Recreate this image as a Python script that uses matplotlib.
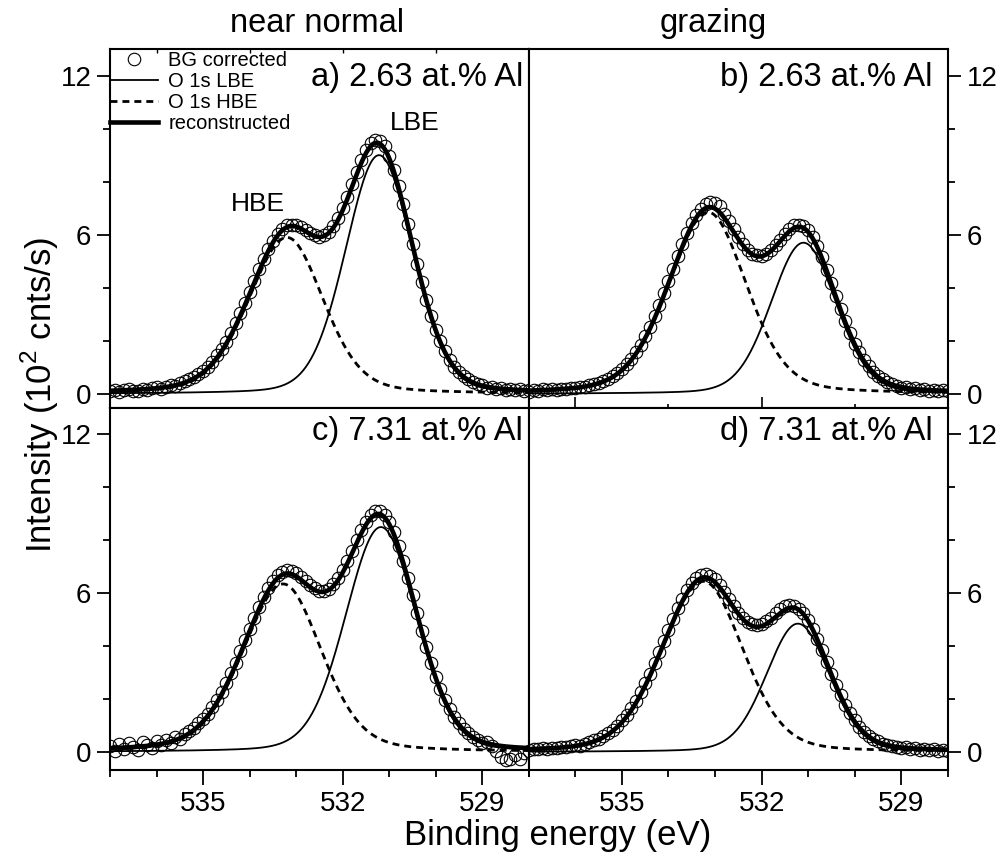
import numpy as np
import matplotlib
matplotlib.use("Agg")
import matplotlib.pyplot as plt
from matplotlib.ticker import FixedLocator

plt.rcParams['font.family'] = ['Liberation Sans', 'DejaVu Sans']
plt.rcParams['mathtext.fontset'] = 'custom'
plt.rcParams['mathtext.rm'] = 'Liberation Sans'

# measured energies: 537.0 -> 528.0 eV in 0.1 eV steps
energy = np.linspace(537.0, 528.0, 91)

# background corrected intensities (10^2 cnts/s)
meas_a = [0.10, 0.16, 0.08, 0.15, 0.20, 0.12, 0.11, 0.19, 0.16, 0.23,
          0.27, 0.18, 0.25, 0.33, 0.30, 0.41, 0.47, 0.55, 0.62, 0.74,
          0.88, 1.03, 1.22, 1.45, 1.70, 1.97, 2.31, 2.66, 3.05, 3.44,
          3.86, 4.27, 4.70, 5.08, 5.45, 5.76, 6.03, 6.22, 6.36, 6.38,
          6.37, 6.30, 6.18, 6.08, 5.99, 5.93, 5.98, 6.10, 6.33, 6.62,
          7.01, 7.43, 7.90, 8.36, 8.80, 9.18, 9.45, 9.58, 9.55, 9.33,
          8.97, 8.45, 7.84, 7.14, 6.40, 5.64, 4.90, 4.20, 3.53, 2.95,
          2.42, 1.98, 1.60, 1.28, 1.02, 0.83, 0.66, 0.55, 0.44, 0.38,
          0.33, 0.24, 0.27, 0.19, 0.22, 0.15, 0.19, 0.13, 0.17, 0.11,
          0.14]
meas_b = [0.09, 0.14, 0.11, 0.17, 0.13, 0.18, 0.15, 0.20, 0.19, 0.24,
          0.21, 0.28, 0.26, 0.34, 0.37, 0.43, 0.50, 0.57, 0.68, 0.80,
          0.94, 1.12, 1.33, 1.58, 1.86, 2.18, 2.53, 2.92, 3.34, 3.79,
          4.25, 4.72, 5.19, 5.64, 6.06, 6.43, 6.75, 6.98, 7.16, 7.22,
          7.20, 7.08, 6.80, 6.50, 6.20, 5.90, 5.64, 5.43, 5.29, 5.22,
          5.21, 5.28, 5.42, 5.60, 5.82, 6.03, 6.22, 6.35, 6.38, 6.32,
          6.17, 5.92, 5.57, 5.15, 4.68, 4.19, 3.69, 3.20, 2.73, 2.29,
          1.90, 1.57, 1.28, 1.04, 0.84, 0.67, 0.55, 0.45, 0.37, 0.31,
          0.24, 0.26, 0.18, 0.21, 0.14, 0.18, 0.12, 0.16, 0.11, 0.14,
          0.10]
meas_c = [0.22, 0.05, 0.30, 0.12, 0.34, 0.18, 0.08, 0.36, 0.27, 0.14,
          0.40, 0.26, 0.45, 0.33, 0.56, 0.50, 0.68, 0.80, 0.90, 1.08,
          1.25, 1.45, 1.70, 1.97, 2.28, 2.62, 3.00, 3.38, 3.80, 4.22,
          4.66, 5.08, 5.48, 5.86, 6.19, 6.47, 6.68, 6.82, 6.87, 6.83,
          6.75, 6.60, 6.45, 6.30, 6.18, 6.10, 6.09, 6.16, 6.33, 6.56,
          6.86, 7.22, 7.60, 8.00, 8.38, 8.70, 8.95, 9.10, 9.12, 8.97,
          8.70, 8.30, 7.80, 7.22, 6.58, 5.92, 5.25, 4.58, 3.95, 3.37,
          2.84, 2.38, 1.97, 1.62, 1.33, 1.08, 0.86, 0.72, 0.58, 0.44,
          0.34, 0.38, 0.22, 0.05, -0.18, -0.30, -0.26, -0.12, -0.28, -0.05,
          0.02]
meas_d = [0.09, 0.12, 0.10, 0.14, 0.12, 0.16, 0.14, 0.18, 0.17, 0.22,
          0.25, 0.24, 0.32, 0.37, 0.44, 0.50, 0.60, 0.70, 0.84, 0.99,
          1.19, 1.41, 1.65, 1.93, 2.25, 2.59, 2.96, 3.35, 3.76, 4.19,
          4.61, 5.03, 5.43, 5.79, 6.11, 6.38, 6.58, 6.70, 6.74, 6.66,
          6.52, 6.32, 6.06, 5.78, 5.50, 5.26, 5.05, 4.90, 4.82, 4.80,
          4.85, 4.95, 5.08, 5.25, 5.40, 5.50, 5.55, 5.52, 5.42, 5.24,
          4.98, 4.66, 4.27, 3.85, 3.40, 2.96, 2.53, 2.14, 1.78, 1.46,
          1.19, 0.96, 0.77, 0.62, 0.49, 0.40, 0.32, 0.27, 0.22, 0.18,
          0.14, 0.18, 0.11, 0.15, 0.08, 0.13, 0.06, 0.11, 0.04, 0.09,
          0.05]
measured = [meas_a, meas_b, meas_c, meas_d]

panel_text = ["a) 2.63 at.% Al", "b) 2.63 at.% Al", "c) 7.31 at.% Al", "d) 7.31 at.% Al"]
col_titles = ["near normal", "grazing"]

# fitted components: centre (eV), height (10^2 cnts/s), FWHM (eV), Lorentz fraction
lbe_center = [531.22, 531.10, 531.18, 531.22]
lbe_height = [9.0, 5.7, 8.5, 4.85]
lbe_fwhm = [1.7, 1.65, 1.8, 1.6]
lbe_mix = [0.15, 0.15, 0.15, 0.15]
hbe_center = [533.2, 533.15, 533.28, 533.25]
hbe_height = [5.9, 6.85, 6.35, 6.45]
hbe_fwhm_hi = [1.95, 2.0, 2.05, 2.1]   # high binding energy side
hbe_fwhm_lo = [1.85, 1.95, 1.95, 2.0]  # low binding energy side
hbe_mix = [0.25, 0.25, 0.25, 0.2]


def gl(x, c, h, w, m):
    # Gauss-Lorentz (pseudo-Voigt) line shape
    d2 = 4 * (x - c) ** 2 / w ** 2
    return h * ((1 - m) * np.exp(-np.log(2) * d2) + m / (1 + d2))


def gl_asym(x, c, h, w_hi, w_lo, m):
    w = np.where(x > c, w_hi, w_lo)
    return gl(x, c, h, w, m)


fig = plt.figure(figsize=(10.05, 8.63), dpi=100)
gs = fig.add_gridspec(2, 2, left=0.1095, right=0.943, top=0.9432, bottom=0.1078,
                      hspace=0, wspace=0, height_ratios=[359, 362])

xf = np.linspace(537.3, 527.7, 700)
ylims = [(-0.53, 13.0), (-0.53, 13.0), (-0.68, 13.0), (-0.68, 13.0)]

for i in range(4):
    r, c = divmod(i, 2)
    ax = fig.add_subplot(gs[r, c])
    lbe = gl(xf, lbe_center[i], lbe_height[i], lbe_fwhm[i], lbe_mix[i])
    hbe = gl_asym(xf, hbe_center[i], hbe_height[i], hbe_fwhm_hi[i], hbe_fwhm_lo[i], hbe_mix[i])

    ax.plot(energy, measured[i], 'o', ms=9, mfc='none', mec='black', mew=0.8, label="BG corrected")
    ax.plot(xf, lbe, '-', color='black', lw=1.3, label="O 1s LBE")
    ax.plot(xf, hbe, '--', color='black', lw=2.0, dashes=(2.5, 1.8), label="O 1s HBE")
    ax.plot(xf, lbe + hbe, '-', color='black', lw=3.3, label="reconstructed")

    ax.set_xlim(537, 528)
    ax.set_ylim(*ylims[i])
    for s in ax.spines.values():
        s.set_linewidth(1.5)

    ax.yaxis.set_major_locator(FixedLocator([0, 6, 12]))
    ax.yaxis.set_minor_locator(FixedLocator([2, 4, 8, 10]))
    if c == 0:
        ax.tick_params(axis='y', which='both', left=True, right=False, direction='out',
                       labelleft=True, labelright=False, labelsize=20, width=1.3, pad=4)
    else:
        ax.tick_params(axis='y', which='both', left=False, right=True, direction='out',
                       labelleft=False, labelright=True, labelsize=20, width=1.3, pad=4)
    ax.tick_params(axis='y', which='major', length=9.5)
    ax.tick_params(axis='y', which='minor', length=5)

    if r == 1:
        ax.xaxis.set_major_locator(FixedLocator([535, 532, 529]))
        ax.xaxis.set_minor_locator(FixedLocator(range(528, 538)))
        ax.tick_params(axis='x', which='both', bottom=True, top=False, direction='out',
                       labelbottom=True, labelsize=20, width=1.3, pad=4)
        ax.tick_params(axis='x', which='major', length=11)
        ax.tick_params(axis='x', which='minor', length=5)
    elif c == 0:
        ax.xaxis.set_major_locator(FixedLocator([536, 534, 532, 530]))
        ax.xaxis.set_minor_locator(FixedLocator([]))
        ax.tick_params(axis='x', which='both', bottom=False, top=True, direction='in',
                       labelbottom=False, length=3, width=1.0)
    else:
        ax.xaxis.set_major_locator(FixedLocator([536, 532]))
        ax.xaxis.set_minor_locator(FixedLocator([534, 530]))
        ax.tick_params(axis='x', which='both', bottom=True, top=False, direction='in',
                       labelbottom=False, width=1.2)
        ax.tick_params(axis='x', which='major', length=8)
        ax.tick_params(axis='x', which='minor', length=3)

    tx = 0.986 if c == 0 else 0.964
    ty = 0.922 if r == 0 else 0.935
    ax.text(tx, ty, panel_text[i], transform=ax.transAxes, ha='right', va='center', fontsize=23.5)

    if r == 0:
        ax.set_title(col_titles[c], fontsize=23.5, pad=12, x=0.494 if c == 0 else 0.44)

    if i == 0:
        ax.text(533.83, 7.14, "HBE", ha='center', va='center', fontsize=19)
        ax.text(530.45, 10.2, "LBE", ha='center', va='center', fontsize=19)
        ax.legend(loc='upper left', bbox_to_anchor=(0, 0.995), frameon=False, fontsize=14.5,
                  borderpad=0, borderaxespad=0, handlelength=2.4, handletextpad=0.5,
                  labelspacing=0.1)

fig.text(0.04, 0.542, "Intensity (10$^2$ cnts/s)", rotation=90, ha='center', va='center', fontsize=25)
fig.text(0.555, 0.032, "Binding energy (eV)", ha='center', va='center', fontsize=25)

fig.savefig("out.png", dpi=100)
